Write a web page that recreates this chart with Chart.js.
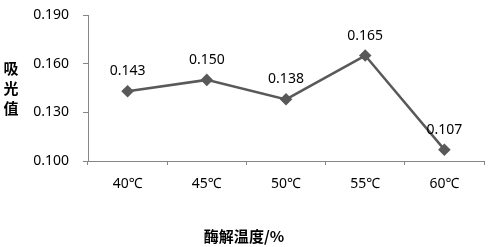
<!DOCTYPE html>
<html>
<head>
<meta charset="utf-8">
<script src="https://cdn.jsdelivr.net/npm/chart.js@4"></script>
<style>
  html, body { margin: 0; padding: 0; background: #fff; }
  #wrap { width: 491px; height: 247px; }
</style>
</head>
<body>
<div id="wrap"><canvas id="chart" width="491" height="247"></canvas></div>
<script>
const temps = ['40℃', '45℃', '50℃', '55℃', '60℃'];
const absorbance = [0.143, 0.150, 0.138, 0.165, 0.107];
const yTicks = [0.100, 0.130, 0.160, 0.190];

const fontFamily = '"Noto Sans", "Noto Sans CJK SC", sans-serif';
const axisColor = '#868686';

// values above each point
const valueLabels = {
  id: 'valueLabels',
  afterDatasetsDraw(chart) {
    const ctx = chart.ctx;
    const meta = chart.getDatasetMeta(0);
    ctx.save();
    ctx.font = '14px ' + fontFamily;
    ctx.fillStyle = '#000';
    ctx.textAlign = 'center';
    ctx.textBaseline = 'middle';
    meta.data.forEach((pt, i) => {
      ctx.fillText(absorbance[i].toFixed(3), pt.x, pt.y - 20);
    });
    ctx.restore();
  }
};

// stacked (upright) y axis title
const yTitle = {
  id: 'yTitle',
  afterDraw(chart) {
    const ctx = chart.ctx;
    const chars = ['吸', '光', '值'];
    ctx.save();
    ctx.font = 'bold 15px "Noto Sans CJK SC", sans-serif';
    ctx.fillStyle = '#000';
    ctx.textAlign = 'center';
    ctx.textBaseline = 'middle';
    chars.forEach((c, i) => {
      ctx.fillText(c, 11, 68 + i * 20);
    });
    ctx.restore();
  }
};

new Chart(document.getElementById('chart').getContext('2d'), {
  type: 'line',
  data: {
    labels: temps,
    datasets: [{
      data: absorbance,
      borderColor: '#595959',
      borderWidth: 2.5,
      pointStyle: 'rectRot',
      pointRadius: 4.5,
      pointBackgroundColor: '#595959',
      pointBorderColor: '#595959',
      tension: 0,
      fill: false,
    }],
  },
  options: {
    responsive: false,
    animation: false,
    layout: { padding: { top: 15, right: 3, left: 0, bottom: 2 } },
    plugins: {
      legend: { display: false },
      tooltip: { enabled: false },
      title: {
        display: true,
        position: 'bottom',
        text: '酶解温度/%',
        color: '#000',
        font: { family: '"Noto Sans CJK SC", sans-serif', size: 15, weight: 'bold' },
        padding: { top: 0, bottom: 0 },
      },
    },
    scales: {
      x: {
        offset: true,
        grid: {
          display: true,
          offset: true,
          drawOnChartArea: false,
          tickLength: 4,
          color: axisColor,
        },
        border: { color: axisColor, width: 1 },
        ticks: {
          color: '#000',
          font: { family: fontFamily, size: 14 },
          padding: 11,
          maxRotation: 0,
        },
        afterFit(scale) {
          scale.height = 66;
          scale.paddingLeft = 0;
          scale.paddingRight = 0;
        },
      },
      y: {
        min: 0.1,
        max: 0.19,
        afterBuildTicks(scale) {
          scale.ticks = yTicks.map(v => ({ value: v }));
        },
        grid: {
          display: true,
          drawOnChartArea: false,
          tickLength: 5,
          color: axisColor,
        },
        border: { color: axisColor, width: 1 },
        ticks: {
          color: '#000',
          font: { family: fontFamily, size: 14 },
          padding: 14,
          callback: v => Number(v).toFixed(3),
        },
        afterFit(scale) {
          scale.width = 88;
          scale.paddingTop = 0;
          scale.paddingBottom = 0;
        },
      },
    },
  },
  plugins: [valueLabels, yTitle],
});
</script>
</body>
</html>
